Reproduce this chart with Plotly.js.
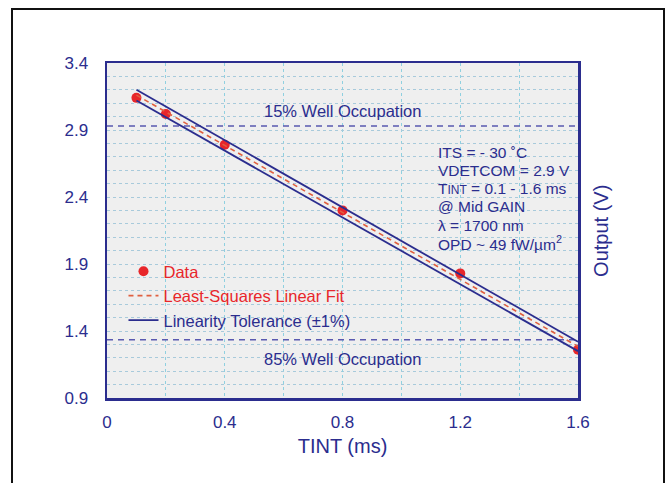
<!DOCTYPE html>
<html>
<head>
<meta charset="utf-8">
<script src="https://cdn.plot.ly/plotly-3.0.1.min.js"></script>
<style>
  html, body { margin: 0; padding: 0; background: #ffffff; }
  #wrap { position: relative; width: 665px; height: 483px; overflow: hidden; }
  #chart { position: absolute; left: 0; top: 0; width: 665px; height: 483px; }
  #frame { position: absolute; left: 11px; top: 8px; width: 650px; height: 520px;
           border: 2px solid #111111; pointer-events: none; }
</style>
</head>
<body>
<div id="wrap">
  <div id="chart"></div>
  <div id="frame"></div>
</div>
<script>
// ---- data ----
const tint = [0.1, 0.2, 0.4, 0.8, 1.2, 1.6];          // ms
const output = [3.14, 3.02, 2.79, 2.30, 1.83, 1.26];  // V
const fitX = [0.1, 1.6];
const fitY = [3.16, 1.285];
const tolUpperY = [3.20, 1.32];
const tolLowerY = [3.12, 1.25];
const wellX = [0, 1.6];
const well15 = 2.93;
const well85 = 1.335;
const xTicks = [0, 0.4, 0.8, 1.2, 1.6];
const yTicks = [0.9, 1.4, 1.9, 2.4, 2.9, 3.4];
const infoLines = [
  'ITS = - 30 \u02DAC',
  'VDETCOM = 2.9 V',
  'T<span style="font-size:12px">INT</span> = 0.1 - 1.6 ms',
  '@ Mid GAIN',
  '\u03BB = 1700 nm',
  'OPD ~ 49 fW/\u00B5m<sup>2</sup>'
];

const NAVY = '#2b2d8e';
const RED = '#e8262a';
const FONT = 'Liberation Sans, Arial, sans-serif';

const traces = [
  { x: wellX, y: [well15, well15], mode: 'lines', showlegend: false, hoverinfo: 'skip',
    line: { color: '#5a5ab0', width: 1.6, dash: '6px,5px' } },
  { x: wellX, y: [well85, well85], mode: 'lines', showlegend: false, hoverinfo: 'skip',
    line: { color: '#5a5ab0', width: 1.6, dash: '6px,5px' } },
  { x: tint, y: output, mode: 'markers', name: '<span style="color:' + RED + '">Data</span>',
    marker: { color: RED, size: 10 } },
  { x: fitX, y: fitY, mode: 'lines', name: '<span style="color:' + RED + '">Least-Squares Linear Fit</span>',
    line: { color: '#e06040', width: 1.6, dash: '5px,4px' } },
  { x: fitX, y: tolUpperY, mode: 'lines', name: '<span style="color:' + NAVY + '">Linearity Tolerance (\u00B11%)</span>',
    line: { color: NAVY, width: 1.8 } },
  { x: fitX, y: tolLowerY, mode: 'lines', showlegend: false,
    line: { color: NAVY, width: 1.8 } }
];

const annotations = [
  { x: 0.8, y: 3.04, xref: 'x', yref: 'y', text: '15% Well Occupation', showarrow: false,
    font: { family: FONT, size: 16.5, color: NAVY } },
  { x: 0.8, y: 1.192, xref: 'x', yref: 'y', text: '85% Well Occupation', showarrow: false,
    font: { family: FONT, size: 16.5, color: NAVY } },
  { x: 1.02, y: 0.5, xref: 'paper', yref: 'paper', text: 'Output (V)', showarrow: false,
    textangle: -90, xanchor: 'left', yanchor: 'middle',
    font: { family: FONT, size: 20, color: NAVY } }
];
const infoTop = 2.731, infoStep = 0.135;
infoLines.forEach(function (t, i) {
  annotations.push({ x: 1.116, y: infoTop - i * infoStep, xref: 'x', yref: 'y', text: t,
    showarrow: false, xanchor: 'left', yanchor: 'middle',
    font: { family: FONT, size: 15.5, color: NAVY } });
});

const layout = {
  width: 665, height: 483,
  margin: { l: 107, r: 87, t: 63, b: 85 },
  paper_bgcolor: 'rgba(0,0,0,0)',
  plot_bgcolor: '#efefef',
  font: { family: FONT, color: NAVY, size: 16 },
  showlegend: true,
  legend: { x: 0.035, y: 0.43, xanchor: 'left', yanchor: 'top', bgcolor: 'rgba(0,0,0,0)',
            font: { family: FONT, size: 16.5, color: NAVY }, itemwidth: 30 },
  xaxis: {
    range: [0, 1.6], tickvals: xTicks, ticktext: xTicks.map(String),
    showline: true, mirror: true, linecolor: NAVY, linewidth: 2.5,
    ticks: '', zeroline: false,
    showgrid: true, gridcolor: '#8fd0e0', griddash: 'dot', gridwidth: 1,
    minor: { dtick: 0.2, tick0: 0, showgrid: true, gridcolor: '#8fd0e0', griddash: 'dot', gridwidth: 1 },
    tickfont: { family: FONT, size: 17, color: NAVY },
    ticklabelstandoff: 7,
    title: { text: 'TINT (ms)', font: { family: FONT, size: 20, color: NAVY }, standoff: 8 }
  },
  yaxis: {
    range: [0.9, 3.4], tickvals: yTicks, ticktext: yTicks.map(function (v) { return v.toFixed(1); }),
    showline: true, mirror: true, linecolor: NAVY, linewidth: 2.5,
    ticks: '', zeroline: false,
    showgrid: true, gridcolor: '#a8cadb', griddash: 'dot', gridwidth: 1,
    minor: { dtick: 0.1, tick0: 0.9, showgrid: true, gridcolor: '#a8cadb', griddash: 'dot', gridwidth: 1 },
    tickfont: { family: FONT, size: 17, color: NAVY },
    ticklabelstandoff: 13
  },
  annotations: annotations
};

Plotly.newPlot('chart', traces, layout, { displayModeBar: false, staticPlot: true });
</script>
</body>
</html>
